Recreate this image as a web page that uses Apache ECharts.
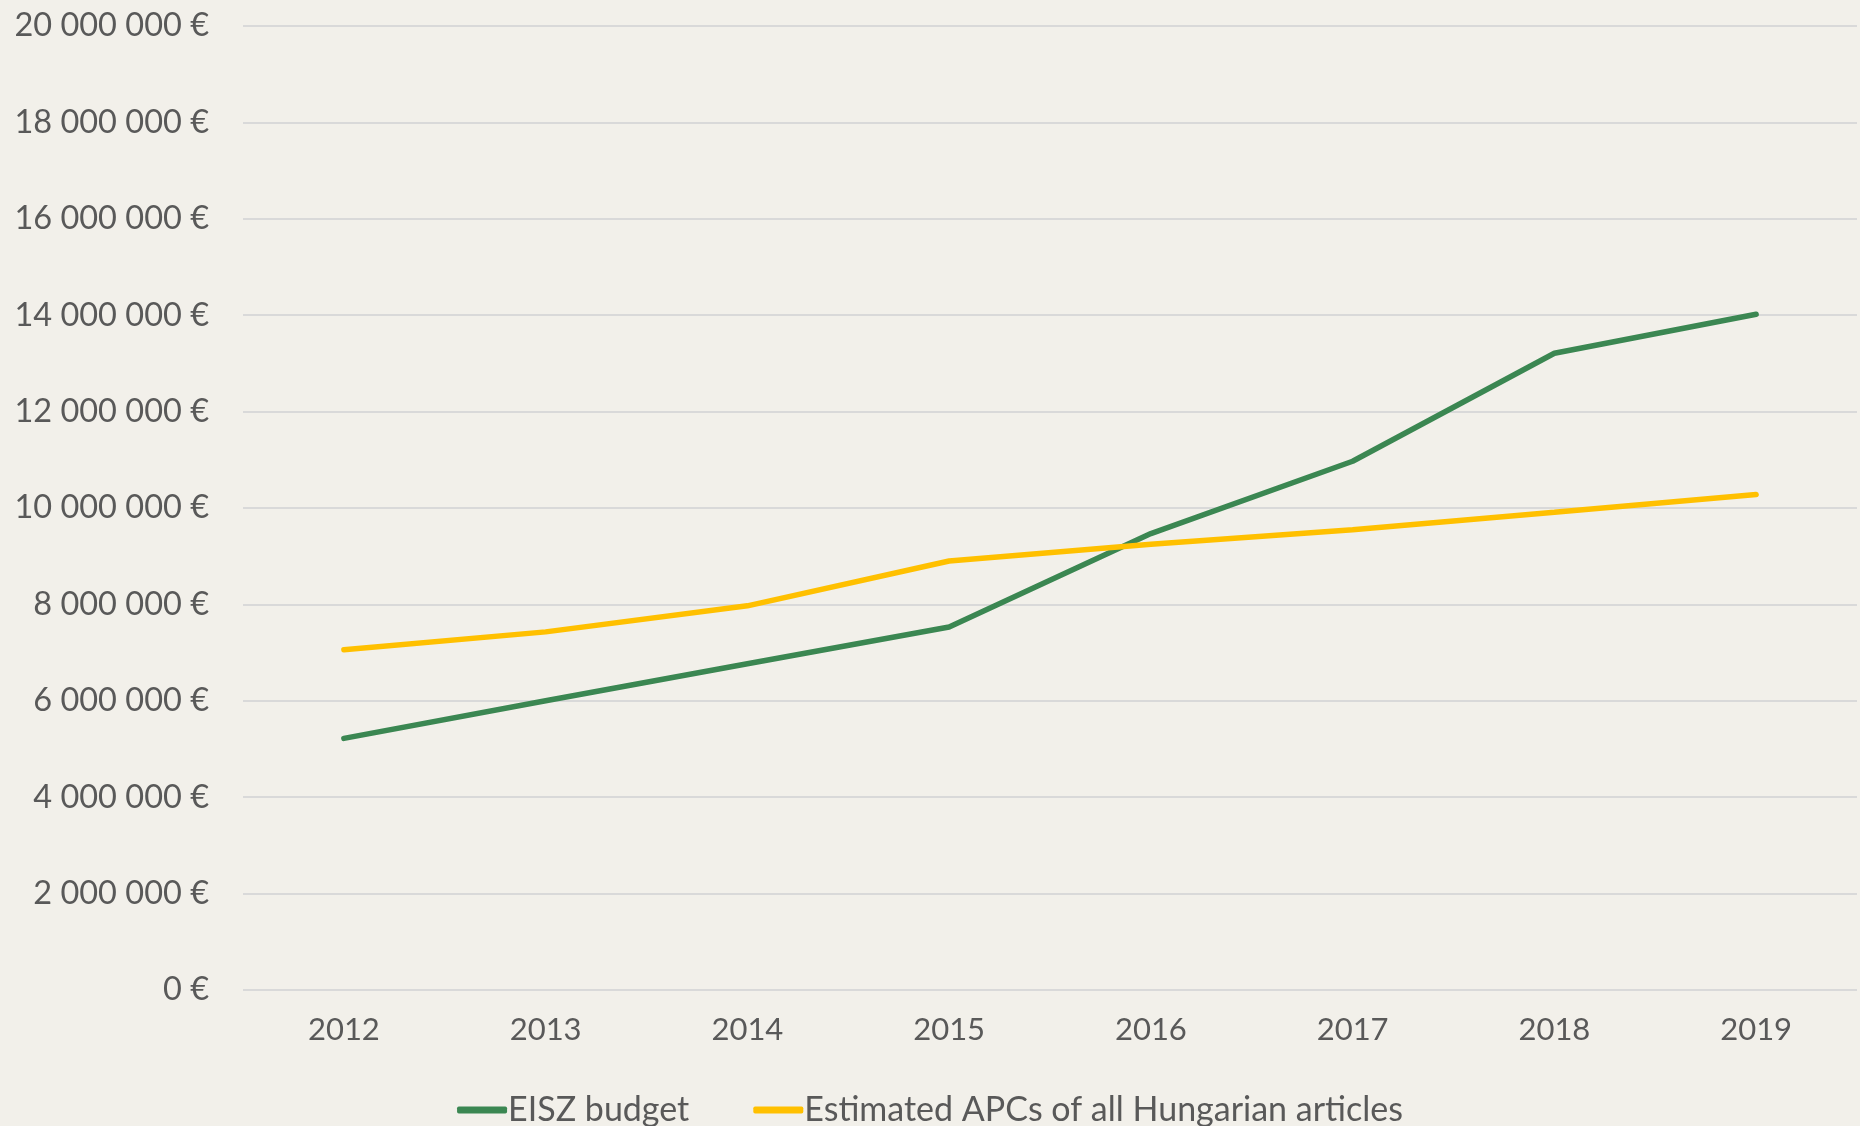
<!DOCTYPE html>
<html>
<head>
<meta charset="utf-8">
<script src="https://cdn.jsdelivr.net/npm/echarts@6/dist/echarts.min.js"></script>
<style>
  html, body { margin: 0; padding: 0; background: #f2f0ea; }
  #chart { width: 1860px; height: 1126px; }
</style>
</head>
<body>
<div id="chart"></div>
<script>
// years on the x axis
const years = ['2012', '2013', '2014', '2015', '2016', '2017', '2018', '2019']
// EISZ budget (€)
const eiszBudget = [5220000, 6000000, 6770000, 7530000, 9470000, 10970000, 13210000, 14020000]
// estimated APCs of all Hungarian articles (€)
const estimatedApcs = [7060000, 7430000, 7970000, 8900000, 9250000, 9550000, 9910000, 10280000]

const seriesNames = ['EISZ budget', 'Estimated APCs of all Hungarian articles']

// 12000000 -> "12 000 000 €"
const fmtEuro = (v) => String(v).replace(/\B(?=(\d{3})+(?!\d))/g, ' ') + ' €'

const myChart = echarts.init(document.getElementById('chart'))

const option = {
  backgroundColor: '#f2f0ea',
  textStyle: { fontFamily: 'Lato' },
  grid: { left: 243, right: 3, top: 26, bottom: 136 },
  legend: {
    data: seriesNames,
    bottom: -6,
    left: 'center',
    itemWidth: 50,
    itemHeight: 7,
    itemGap: 64,
    icon: 'roundRect',
    textStyle: { color: '#595959', fontSize: 34, fontFamily: 'Lato', padding: [0, 0, 0, -4] }
  },
  xAxis: {
    type: 'category',
    data: years,
    boundaryGap: true,
    axisLine: { show: false },
    axisTick: { show: false },
    axisLabel: { color: '#595959', fontSize: 31, margin: 24 }
  },
  yAxis: {
    type: 'value',
    min: 0,
    max: 20000000,
    interval: 2000000,
    axisLine: { show: false },
    axisTick: { show: false },
    splitLine: { lineStyle: { color: '#d9d9d9', width: 2 } },
    axisLabel: { color: '#595959', fontSize: 32.5, margin: 34, formatter: fmtEuro }
  },
  series: [
    {
      name: seriesNames[0],
      type: 'line',
      data: eiszBudget,
      symbol: 'none',
      lineStyle: { color: '#3b8752', width: 5.5, cap: 'round' },
      itemStyle: { color: '#3b8752' }
    },
    {
      name: seriesNames[1],
      type: 'line',
      data: estimatedApcs,
      symbol: 'none',
      lineStyle: { color: '#ffc000', width: 5.5, cap: 'round' },
      itemStyle: { color: '#ffc000' }
    }
  ]
}

myChart.setOption(option)
</script>
</body>
</html>
